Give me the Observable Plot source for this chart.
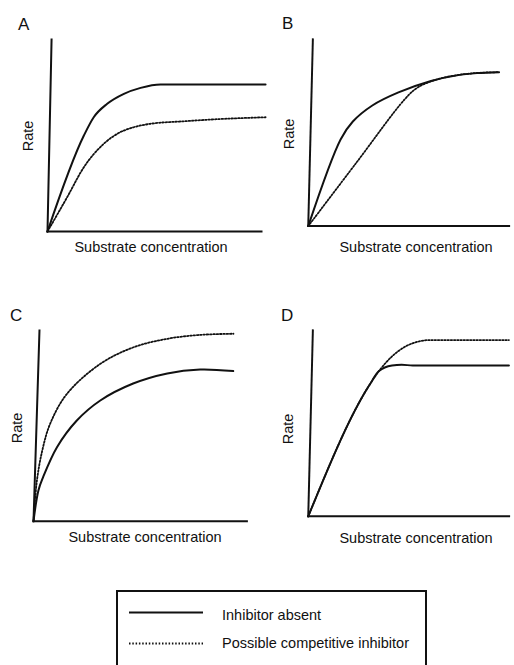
<!DOCTYPE html>
<html>
<head>
<meta charset="utf-8">
<script src="https://cdn.jsdelivr.net/npm/d3@7"></script>
<script src="https://cdn.jsdelivr.net/npm/@observablehq/plot@0.6"></script>
<style>
  html, body { margin: 0; padding: 0; background: #fff; overflow: hidden; }
  #root { position: relative; width: 514px; height: 665px; overflow: hidden;
          font-family: "Liberation Sans", Arial, Helvetica, sans-serif; color: #111; }
  .lbl { position: absolute; white-space: nowrap; line-height: 1; }
  .panel { position: absolute; font-size: 17px; }
  .ax { font-size: 14.5px; }
  .svgwrap { position: absolute; }
  .svgwrap svg { overflow: visible; display: block; }
  #legend { position: absolute; left: 116px; top: 590px; width: 311px; height: 90px;
            border: 2px solid #111; box-sizing: border-box; }
</style>
</head>
<body>
<div id="root"></div>
<script>
// ---- data (units: % of each axis length) ----
const panelNames = ["A", "B", "C", "D"];
const xLabel = "Substrate concentration";
const yLabel = "Rate";
const legendLabels = ["Inhibitor absent", "Possible competitive inhibitor"];

// y-axis lean: x-offset of the top of each panel's y axis
const yAxisLean = [1.9, 2.3, 2.8, 2.3];

const A_absent = [[0,0],[17,50],[21.6,59.5],[27.9,66.5],[35.7,71.7],[43.5,74.8],[52.8,76.6],[101.9,76.6]];
const A_inhib  = [[0,0],[9.2,17.9],[17,33.5],[26.3,45.7],[32.6,50.9],[40.3,54.3],[48.1,56.1],[63.7,57.4],[79.3,58.5],[101.9,59.5]];

const B_absent = [[0,0],[16.1,46.4],[22.2,56],[31.9,64.6],[44.9,71.6],[61.1,77.7],[74,80.7],[84,81.9],[95,82.4]];
const B_inhib  = [[0,0],[24,34],[48.2,68.1],[54.6,74.3],[64.3,78.6],[74,80.8],[85.3,82.1],[95,82.4]];

const C_absent = [[0,0],[2.3,16.1],[4.5,23.1],[11,38.8],[20.3,52.8],[31.3,63.3],[46.7,72.2],[62.7,77.5],[78.1,79.5],[93.6,78.7]];
const C_inhib  = [[0,0],[1.6,21.3],[4.1,37],[7.8,51.1],[15.7,66.8],[31.3,82.5],[46.9,91.2],[62.5,95.6],[78.1,97.7],[93.7,98.3]];

const D_absent = [[0,0],[30.3,70.3],[35.2,78.1],[41.7,81.1],[46.5,81.5],[52,81.1],[99.9,81.1]];
const D_inhib  = [[0,0],[30.3,70.3],[35.2,78.1],[41.7,86],[48.2,91.2],[54.6,93.9],[61.1,94.8],[99.9,94.8]];

const seriesAbsent = [A_absent, B_absent, C_absent, D_absent];
const seriesInhib  = [A_inhib, B_inhib, C_inhib, D_inhib];

// ---- layout (pixel frames: origin, x-axis end, y-axis top) ----
const frames = [
  {ox: 47,    oy: 231,   xe: 261,   yt: 39,  lx: 18,  ly: 16,  rx: 28,  ry: 136, sx: 151, sy: 247, curve: "monotone-x"},
  {ox: 307.5, oy: 230.5, xe: 513.5, yt: 39,  lx: 282, ly: 15,  rx: 289, ry: 134, sx: 416, sy: 247, curve: "catmull-rom"},
  {ox: 33.3,  oy: 520.7, xe: 246.7, yt: 330, lx: 10,  ly: 307, rx: 17,  ry: 428, sx: 145, sy: 537, curve: "catmull-rom"},
  {ox: 307.5, oy: 520.7, xe: 513.5, yt: 330, lx: 281, ly: 307, rx: 288, ry: 429, sx: 416, sy: 538, curve: "monotone-x"}
];

const root = document.getElementById("root");
const ink = "#111";
const dots = "1.5,1.8";
const mL = 10, mR = 6, mT = 6, mB = 6;

function addText(cls, txt, css) {
  const d = document.createElement("div");
  d.className = "lbl " + cls;
  d.textContent = txt;
  Object.assign(d.style, css);
  root.appendChild(d);
  return d;
}

frames.forEach((f, i) => {
  const w = f.xe - f.ox + mL + mR;
  const h = f.oy - f.yt + mT + mB;
  const axisLines = [
    {x1: 0, y1: 0, x2: 100, y2: 0},
    {x1: 0, y1: 0, x2: yAxisLean[i], y2: 100}
  ];
  const chart = Plot.plot({
    width: w, height: h,
    marginLeft: mL, marginRight: mR, marginTop: mT, marginBottom: mB,
    x: {domain: [0, 100], axis: null},
    y: {domain: [0, 100], axis: null},
    marks: [
      Plot.line(seriesInhib[i], {x: d => d[0], y: d => d[1], curve: f.curve,
        stroke: ink, strokeWidth: 1.8, strokeDasharray: dots}),
      Plot.line(seriesAbsent[i], {x: d => d[0], y: d => d[1], curve: f.curve,
        stroke: ink, strokeWidth: 2}),
      Plot.link(axisLines, {x1: "x1", y1: "y1", x2: "x2", y2: "y2",
        stroke: ink, strokeWidth: 2, strokeLinecap: "square"})
    ]
  });
  const wrap = document.createElement("div");
  wrap.className = "svgwrap";
  wrap.style.left = (f.ox - mL) + "px";
  wrap.style.top = (f.yt - mT) + "px";
  wrap.appendChild(chart);
  root.appendChild(wrap);

  addText("panel", panelNames[i], {left: f.lx + "px", top: f.ly + "px"});
  addText("ax", yLabel, {left: f.rx + "px", top: f.ry + "px",
    transform: "translate(-50%,-50%) rotate(-90deg)"});
  addText("ax", xLabel, {left: f.sx + "px", top: f.sy + "px",
    transform: "translate(-50%,-50%)"});
});

// legend
const leg = document.createElement("div");
leg.id = "legend";
root.appendChild(leg);
const legSvg = d3.create("svg").attr("width", 80).attr("height", 60)
  .style("position", "absolute").style("left", "129px").style("top", "600px");
legSvg.append("line").attr("x1", 0).attr("x2", 74).attr("y1", 12.5).attr("y2", 12.5)
  .attr("stroke", ink).attr("stroke-width", 2);
legSvg.append("line").attr("x1", 0).attr("x2", 74).attr("y1", 43.5).attr("y2", 43.5)
  .attr("stroke", ink).attr("stroke-width", 1.8).attr("stroke-dasharray", dots);
root.appendChild(legSvg.node());
addText("ax", legendLabels[0], {left: "222px", top: "614.5px", transform: "translateY(-50%)"});
addText("ax", legendLabels[1], {left: "222px", top: "643px", transform: "translateY(-50%)"});
</script>
</body>
</html>
